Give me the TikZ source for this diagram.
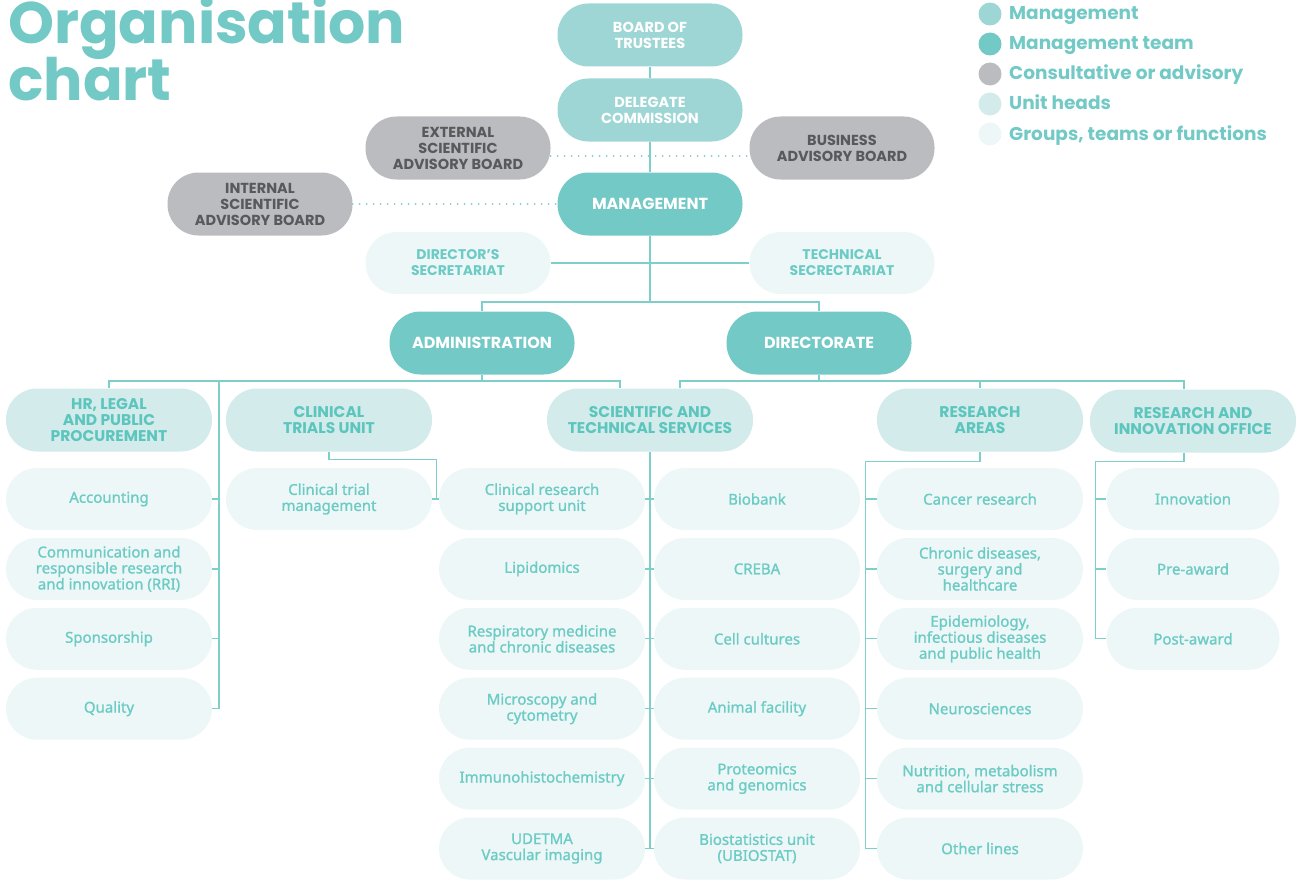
\documentclass[tikz,border=0pt]{standalone}
\usepackage{fontspec}
\setmainfont{Poppins}
\newfontfamily\itemfont{Noto Sans}[FakeBold=1.2]
\usetikzlibrary{
    positioning,
    calc
}
\definecolor{mgmtc}{HTML}{9DD6D4}
\definecolor{teamc}{HTML}{72C9C5}
\definecolor{advc}{HTML}{BBBCC0}
\definecolor{advtext}{HTML}{58595B}
\definecolor{unitc}{HTML}{D3EBEA}
\definecolor{unittext}{HTML}{5CC6BE}
\definecolor{groupc}{HTML}{EDF7F7}
\definecolor{grouptext}{HTML}{6CCBC4}
\definecolor{linec}{HTML}{7ECFCA}

\begin{document}
\begin{tikzpicture}[
    x=1pt, y=-1pt,
    node distance=7.5pt and 10pt,
    pill/.style={rectangle, rounded corners=31pt, minimum width=185pt, minimum height=63pt, inner sep=2pt, align=center},
    mgmtbox/.style={pill, fill=mgmtc, text=white, font=\bfseries\fontsize{14.5}{16}\selectfont},
    teambox/.style={pill, fill=teamc, text=white, font=\bfseries\fontsize{16}{18}\selectfont},
    advbox/.style={pill, fill=advc, text=advtext, font=\bfseries\fontsize{14.5}{16}\selectfont},
    unitbox/.style={pill, fill=unitc, text=unittext, minimum width=206pt, font=\bfseries\fontsize{15.5}{16}\selectfont},
    groupbox/.style={pill, fill=groupc, text=grouptext, minimum width=206pt, minimum height=62pt, font=\itemfont\fontsize{15}{16}\selectfont},
    conn/.style={draw=linec, line width=1.3pt},
    dots/.style={draw=linec, line width=2pt, line cap=round, dash pattern=on 0pt off 7pt},
    titletext/.style={text=teamc, font=\bfseries\fontsize{58.5}{58}\selectfont, inner sep=0pt},
    legendtext/.style={text=teamc, font=\bfseries\fontsize{18.5}{20}\selectfont, inner sep=0pt}
]
\useasboundingbox (0,0) rectangle (1300,880);

% Title and legend
\node[titletext, anchor=base west] (title1) at (8,44) {Organisation};
\node[titletext, anchor=base west] (title2) at (8,101) {chart};
\foreach \c/\t [count=\i] in {mgmtc/Management, teamc/Management team, advc/Consultative or advisory, unitc/Unit heads, groupc/{Groups, teams or functions}} {
    \node[circle, fill=\c, minimum size=23pt, inner sep=0pt] (dot\i) at (990,{14+30*(\i-1)}) {};
    \node[legendtext, anchor=base west] (leg\i) at (1009,{20+30*(\i-1)}) {\t};
}

% Top of the chart
\node[mgmtbox] (board) at (650,35) {BOARD OF\\TRUSTEES};
\node[mgmtbox] (delegate) at (650,110) {DELEGATE\\COMMISSION};
\node[advbox] (extsab) at (458,148) {EXTERNAL\\SCIENTIFIC\\ADVISORY BOARD};
\node[advbox] (busab) at (842,148) {BUSINESS\\ADVISORY BOARD};
\node[teambox] (mgmt) at (650,204) {MANAGEMENT};
\node[advbox] (intsab) at (260,204) {INTERNAL\\SCIENTIFIC\\ADVISORY BOARD};
\node[groupbox, minimum width=185pt, font=\bfseries\fontsize{14}{16}\selectfont] (dirsec) at (458,263) {DIRECTOR'S\\SECRETARIAT};
\node[groupbox, minimum width=185pt, font=\bfseries\fontsize{14}{16}\selectfont] (techsec) at (842,263) {TECHNICAL\\SECRECTARIAT};
\node[teambox] (admin) at (482,343) {ADMINISTRATION};
\node[teambox] (direct) at (819,343) {DIRECTORATE};
\coordinate (split) at (650,302);
\coordinate (adminbar) at (482,381);
\coordinate (dirbar) at (819,381);
\coordinate (hrspine) at (219,381);

% Unit heads
\node[unitbox] (hr) at (109,420) {HR, LEGAL\\AND PUBLIC\\PROCUREMENT};
\node[unitbox] (ctu) at (329,420) {CLINICAL\\TRIALS UNIT};
\node[unitbox] (sts) at (650,420) {SCIENTIFIC AND\\TECHNICAL SERVICES};
\node[unitbox] (ra) at (980,420) {RESEARCH\\AREAS};
\node[unitbox] (rio) at (1193,421) {RESEARCH AND\\INNOVATION OFFICE};

% Groups, teams or functions
\node[groupbox] (accounting) at (109,499) {Accounting};
\node[groupbox, below=of accounting] (comms) {Communication and\\responsible research\\and innovation (RRI)};
\node[groupbox, below=of comms] (sponsor) {Sponsorship};
\node[groupbox, below=of sponsor] (quality) {Quality};

\node[groupbox] (ctm) at (329,499) {Clinical trial\\management};

\node[groupbox] (crsu) at (542,499) {Clinical research\\support unit};
\node[groupbox, below=of crsu] (lipid) {Lipidomics};
\node[groupbox, below=of lipid] (resp) {Respiratory medicine\\and chronic diseases};
\node[groupbox, below=of resp] (micro) {Microscopy and\\cytometry};
\node[groupbox, below=of micro] (immuno) {Immunohistochemistry};
\node[groupbox, below=of immuno] (udetma) {UDETMA\\Vascular imaging};

\node[groupbox] (biobank) at (757,499) {Biobank};
\node[groupbox, below=of biobank] (creba) {CREBA};
\node[groupbox, below=of creba] (cells) {Cell cultures};
\node[groupbox, below=of cells] (animal) {Animal facility};
\node[groupbox, below=of animal] (proteo) {Proteomics\\and genomics};
\node[groupbox, below=of proteo] (ubiostat) {Biostatistics unit\\(UBIOSTAT)};

\node[groupbox] (cancer) at (980,499) {Cancer research};
\node[groupbox, below=of cancer] (chronic) {Chronic diseases,\\surgery and\\healthcare};
\node[groupbox, below=of chronic] (epid) {Epidemiology,\\infectious diseases\\and public health};
\node[groupbox, below=of epid] (neuro) {Neurosciences};
\node[groupbox, below=of neuro] (nutri) {Nutrition, metabolism\\and cellular stress};
\node[groupbox, below=of nutri] (other) {Other lines};

\node[groupbox, minimum width=173pt] (innov) at (1193,499) {Innovation};
\node[groupbox, minimum width=173pt, below=of innov] (preaward) {Pre-award};
\node[groupbox, minimum width=173pt, below=of preaward] (postaward) {Post-award};

% Connectors
\draw[conn] (board) -- (delegate);
\draw[conn] (delegate) -- (mgmt);
\draw[conn] (mgmt) -- (split);
\draw[conn] (dirsec) -- (techsec);
\draw[dots] ([yshift=-8pt]extsab.east) -- ([yshift=-8pt]busab.west);
\draw[dots] (intsab) -- (mgmt);
\draw[conn] (admin.north) |- (split) -| (direct.north);

\draw[conn] (admin.south) -- (adminbar);
\draw[conn] (hr.north) |- (adminbar) -| ([xshift=-30pt]sts.north);
\draw[conn] (hrspine) |- (quality.east);
\foreach \n in {accounting, comms, sponsor}
    \draw[conn] (\n.east) -- (\n.east -| hrspine);
\draw[conn] (ctu.south) -- ++(0,8) -| ([xshift=4pt]ctm.east);
\draw[conn] (ctm.east) -- (crsu.west);

\draw[conn] (direct.south) -- (dirbar);
\draw[conn] ([xshift=30pt]sts.north) |- (dirbar) -| ([xshift=-9pt]rio.north);
\draw[conn] (ra.north) -- (ra.north |- dirbar);

\draw[conn] (sts.south) -- (sts.south |- ubiostat.west);
\foreach \l/\r in {crsu/biobank, lipid/creba, resp/cells, micro/animal, immuno/proteo, udetma/ubiostat}
    \draw[conn] (\l.east) -- (\r.west);

\draw[conn] (ra.south) -- ++(0,10) -| ([xshift=-11pt]other.west) -- (other.west);
\foreach \n in {cancer, chronic, epid, neuro, nutri}
    \draw[conn] (\n.west) -- ++(-11,0);

\draw[conn] ([xshift=-9pt]rio.south) -- ++(0,9) -| ([xshift=-11pt]postaward.west) -- (postaward.west);
\foreach \n in {innov, preaward}
    \draw[conn] (\n.west) -- ++(-11,0);
\end{tikzpicture}
\end{document}
